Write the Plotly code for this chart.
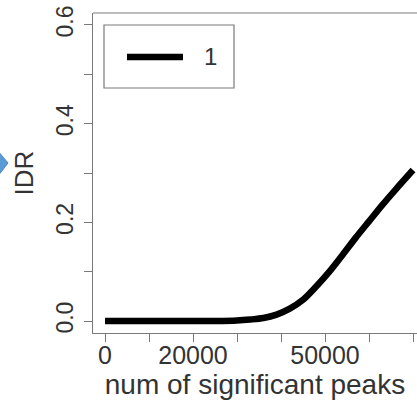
import plotly.graph_objects as go

# Data
peaks = [0, 10000, 20000, 25000, 30000, 33000, 36000, 39000, 42000, 45000,
         48000, 51000, 54000, 57000, 60000, 63000, 66000, 70000]
idr = [0.0, 0.0, 0.0, 0.0, 0.001, 0.003, 0.006, 0.013, 0.025, 0.043,
       0.07, 0.1, 0.134, 0.169, 0.202, 0.235, 0.266, 0.306]

x_tickvals = [0, 10000, 20000, 30000, 40000, 50000, 60000, 70000]
x_ticktext = ["0", "", "20000", "", "", "50000", "", ""]
y_tickvals = [0.0, 0.1, 0.2, 0.3, 0.4, 0.5, 0.6]
y_ticktext = ["0.0", "", "0.2", "", "0.4", "", "0.6"]
legend_label = "1"

FONT = "Liberation Sans, Arial, Helvetica, sans-serif"
TXT = "#333333"
AX = "#7a7a7a"

W, H = 417, 400
L, R, T, B = 93, 0, 13, 67
PW, PH = W - L - R, H - T - B


def px(xw):
    # window pixel x -> paper x
    return (xw - L) / PW


def py(yw):
    # window pixel y -> paper y
    return (H - B - yw) / PH


fig = go.Figure()
fig.add_trace(go.Scatter(
    x=peaks, y=idr, mode="lines",
    line=dict(color="black", width=6.5, shape="spline", smoothing=0.8),
    name=legend_label, showlegend=False, hoverinfo="skip",
))

shapes = [
    # top border of plot box
    dict(type="line", xref="paper", yref="paper", x0=0, x1=1, y0=1, y1=1,
         line=dict(color=AX, width=1)),
    # legend box
    dict(type="rect", xref="paper", yref="paper",
         x0=px(104), x1=px(234), y0=py(88), y1=py(25),
         line=dict(color=AX, width=1.2), fillcolor="white"),
    # legend line sample
    dict(type="line", xref="paper", yref="paper",
         x0=px(127), x1=px(183), y0=py(57), y1=py(57),
         line=dict(color="black", width=6.5)),
    # blue arrow tip at left edge
    dict(type="path", xref="paper", yref="paper",
         path=f"M {px(-2)},{py(151)} L {px(8)},{py(163)} L {px(-2)},{py(176)} Z",
         fillcolor="#5b9bd5", line=dict(color="#4a86c0", width=1)),
]

fig.add_annotation(
    xref="paper", yref="paper", x=px(210), y=py(57),
    text=legend_label, showarrow=False,
    font=dict(family=FONT, size=24, color=TXT),
    xanchor="center", yanchor="middle",
)

fig.update_layout(
    width=W, height=H,
    margin=dict(l=L, r=R, t=T, b=B, autoexpand=False),
    paper_bgcolor="white", plot_bgcolor="white",
    shapes=shapes,
    font=dict(family=FONT, color=TXT),
    xaxis=dict(
        range=[-2727, 70909], tickvals=x_tickvals, ticktext=x_ticktext,
        ticks="outside", ticklen=8, tickcolor=AX, tickwidth=1,
        showline=True, linecolor=AX, linewidth=1,
        showgrid=False, zeroline=False, ticklabelstandoff=-8,
        ticklabeloverflow="allow",
        tickfont=dict(family=FONT, size=25, color=TXT),
        title=dict(text="num of significant peaks",
                   font=dict(family=FONT, size=28, color=TXT), standoff=2),
    ),
    yaxis=dict(
        range=[-0.0243, 0.6243], tickvals=y_tickvals, ticktext=y_ticktext,
        ticks="outside", ticklen=8, tickcolor=AX, tickwidth=1,
        showline=True, linecolor=AX, linewidth=1,
        showgrid=False, zeroline=False, tickangle=-90,
        ticklabeloverflow="allow", ticklabelstandoff=2,
        tickfont=dict(family=FONT, size=23, color=TXT),
        title=dict(text="IDR", font=dict(family=FONT, size=26, color=TXT),
                   standoff=10),
    ),
)

# remove the browser's default 8px body margin so the figure fills the window
fig.write_html(
    "out.html",
    config={"displayModeBar": False, "staticPlot": True},
    post_script="document.body.style.margin='0px';",
)
